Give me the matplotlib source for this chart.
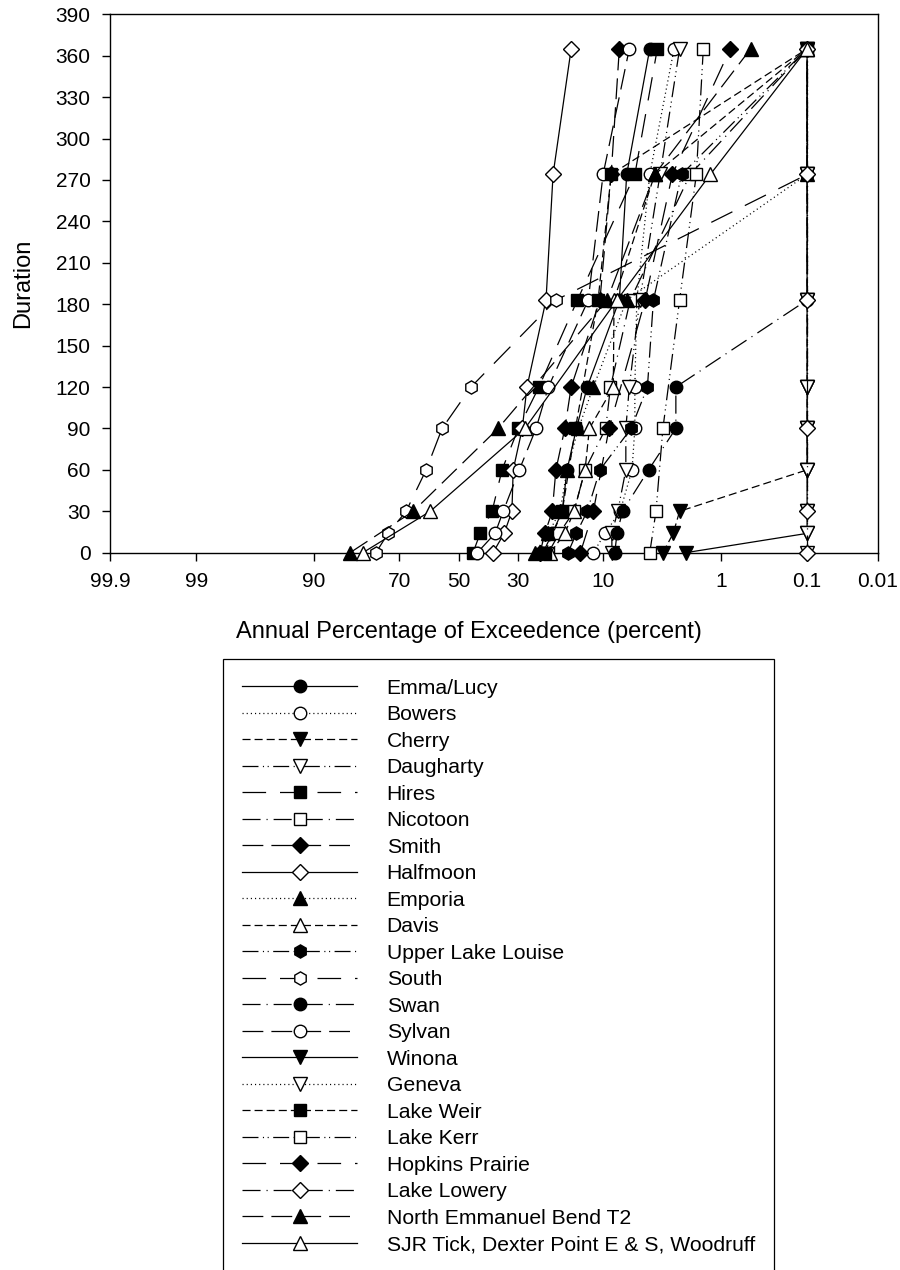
import numpy as np
import matplotlib
matplotlib.use('Agg')
import matplotlib.pyplot as plt
from matplotlib.ticker import NullLocator
from math import erf

plt.rcParams['font.family'] = ['Liberation Sans', 'DejaVu Sans']
plt.rcParams['lines.scale_dashes'] = False

# duration (days); some sites only have the coarser set
days_full = [0, 14, 30, 60, 90, 120, 183, 274, 365]
days_short = [0, 30, 90, 183, 274, 365]

# annual percentage of exceedence for each site
emma_lucy = [22.7, 20.3, 17.9, 16.8, 14.8, 12.7, 7.7, 6.8, 4.5]
bowers = [11.6, 9.7, 7.6, 6.2, 5.9, 5.9, 5.7, 4.5, 2.8]
cherry = [3.5, 2.85, 2.5, 0.1, 0.1, 0.1, 0.1, 0.1, 0.1]
daugharty = [8.7, 8.7, 7.9, 6.9, 6.9, 6.5, 5.4, 3.7, 2.5]
hires = [44.9, 42.4, 38.3, 35.0, 29.8, 23.8, 14.6, 5.9, 3.9]
nicotoon = [21.3, 18.6, 15.3, 13.1, 9.6, 8.9, 6.4, 2.0, 0.1]
smith = [23.5, 22.2, 20.3, 19.4, 17.3, 15.9, 10.5, 8.8, 7.7]
halfmoon = [38.0, 34.3, 31.8, 31.4, 28.6, 27.2, 21.9, 20.1, 15.9]
emporia = [24.9, 21.3, 18.4, 16.8, 14.4, 11.6, 6.8, 0.1, 0.1]
davis = [20.8, 17.3, 15.3, 13.1, 12.3, 8.5, 8.4, 4.1, 0.1]
upper_lake_louise = [16.6, 14.8, 12.7, 10.5, 6.3, 4.7, 4.2, 2.4, 0.1]
south = [76.8, 73.4, 67.9, 61.3, 55.8, 45.6, 19.4, 0.1, 0.1]
swan = [8.3, 8.0, 7.3, 4.6, 2.7, 2.7, 0.1, 0.1, 0.1]
sylvan = [43.4, 37.3, 34.6, 29.5, 24.6, 21.3, 12.5, 10.0, 6.5]
winona = [2.2, 0.1, 0.1, 0.1, 0.1, 0.1, 0.1, 0.1, 0.1]
geneva = [0.1, 0.1, 0.1, 0.1, 0.1, 0.1, 0.1, 0.1, 0.1]
lake_weir = [22.2, 17.9, 15.0, 10.8, 8.8, 0.1]
lake_kerr = [4.5, 4.0, 3.5, 2.5, 1.75, 1.5]
hopkins_prairie = [14.0, 11.6, 9.1, 4.9, 2.9, 0.8]
lake_lowery = [0.1, 0.1, 0.1, 0.1, 0.1, 0.1]
north_emmanuel = [83.2, 65.6, 36.3, 9.4, 4.1, 0.48]
sjr_tick = [80.2, 59.9, 27.8, 8.0, 1.28, 0.1]

sites = [
    ('Emma/Lucy', days_full, emma_lucy),
    ('Bowers', days_full, bowers),
    ('Cherry', days_full, cherry),
    ('Daugharty', days_full, daugharty),
    ('Hires', days_full, hires),
    ('Nicotoon', days_full, nicotoon),
    ('Smith', days_full, smith),
    ('Halfmoon', days_full, halfmoon),
    ('Emporia', days_full, emporia),
    ('Davis', days_full, davis),
    ('Upper Lake Louise', days_full, upper_lake_louise),
    ('South', days_full, south),
    ('Swan', days_full, swan),
    ('Sylvan', days_full, sylvan),
    ('Winona', days_full, winona),
    ('Geneva', days_full, geneva),
    ('Lake Weir', days_short, lake_weir),
    ('Lake Kerr', days_short, lake_kerr),
    ('Hopkins Prairie', days_short, hopkins_prairie),
    ('Lake Lowery', days_short, lake_lowery),
    ('North Emmanuel Bend T2', days_short, north_emmanuel),
    ('SJR Tick, Dexter Point E & S, Woodruff', days_short, sjr_tick),
]

x_ticks = [99.9, 99, 90, 70, 50, 30, 10, 1, 0.1, 0.01]
x_tick_labels = ['99.9', '99', '90', '70', '50', '30', '10', '1', '0.1', '0.01']

# normal probability axis: percent <-> standard normal quantile
_zgrid = np.linspace(-5.5, 5.5, 22001)
_cdf = np.array([0.5 * (1.0 + erf(z / np.sqrt(2.0))) for z in _zgrid])


def pct_to_z(p):
    p = np.clip(np.asarray(p, dtype=float) / 100.0, _cdf[0], _cdf[-1])
    return np.interp(p, _cdf, _zgrid)


def z_to_pct(z):
    return 100.0 * np.interp(z, _zgrid, _cdf)


# SigmaPlot-like line and symbol cycles
dot = (0, (0.8, 2.2))
short_dash = (0, (5.8, 2.9))
dash_dot_dot = (0, (11.5, 3.2, 0.8, 2.6, 0.8, 3.2))
long_gap = (0, (17.0, 10.0))
dash_dot = (0, (13.0, 4.3, 0.8, 4.3))
long_dash = (0, (15.0, 5.8))
line_cycle = ['-', dot, short_dash, dash_dot_dot, long_gap, dash_dot, long_dash]
marker_cycle = ['o', 'o', 'v', 'v', 's', 's', 'D', 'D', '^', '^', 'h', 'h']
marker_size = {'o': 9, 'v': 9.5, 's': 8.4, 'D': 8.3, '^': 9.5, 'h': 9.5}

fig = plt.figure(figsize=(9, 12.7), dpi=100)
ax = fig.add_axes([110 / 900, 1 - 552.7 / 1270, 768 / 900, 538.4 / 1270])
ax.set_xscale('function', functions=(pct_to_z, z_to_pct))

for i, (name, days, pct) in enumerate(sites):
    m = marker_cycle[i % 12]
    ax.plot(pct, days, linestyle=line_cycle[i % 7], color='black', lw=0.9,
            marker=m, ms=marker_size[m], mec='black', mew=1.0,
            mfc='black' if i % 2 == 0 else 'white',
            label=name, clip_on=False, zorder=3 + i * 0.01)

ax.set_xlim(99.9, 0.01)
ax.set_ylim(0, 390)
ax.set_xticks(x_ticks, x_tick_labels)
ax.xaxis.set_minor_locator(NullLocator())
ax.set_yticks(np.arange(0, 391, 30))
ax.tick_params(direction='out', length=6, width=1, labelsize=15, pad=8)
for s in ax.spines.values():
    s.set_linewidth(1.0)

fig.text(468.5 / 900, 1 - 632 / 1270, 'Annual Percentage of Exceedence (percent)',
         ha='center', va='center', fontsize=17)
fig.text(23 / 900, 1 - 283.5 / 1270, 'Duration', rotation=90,
         ha='center', va='center', fontsize=17)

handles, labels = ax.get_legend_handles_labels()
leg = fig.legend(handles, labels, loc='upper left',
                 bbox_to_anchor=(222.7 / 900, 1 - 659.3 / 1270),
                 bbox_transform=fig.transFigure, fontsize=15.2, numpoints=1,
                 handlelength=5.45, handletextpad=1.4, borderpad=0.92,
                 labelspacing=0.355, borderaxespad=0, fancybox=False,
                 edgecolor='black', framealpha=1)
leg.get_frame().set_linewidth(0.9)

fig.savefig('out.png', dpi=100)
